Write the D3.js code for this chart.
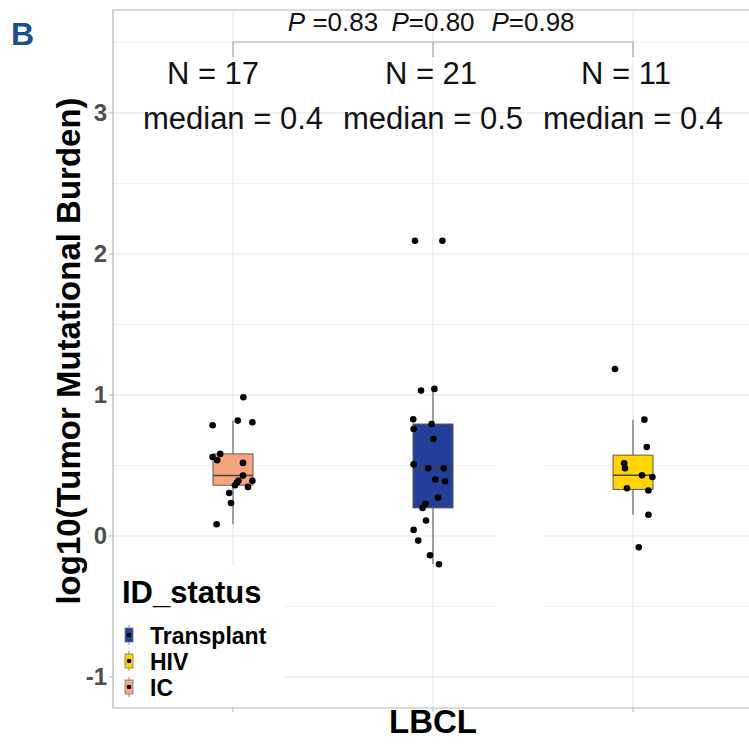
<!DOCTYPE html>
<html>
<head>
<meta charset="utf-8">
<script src="https://cdn.jsdelivr.net/npm/d3@7"></script>
<style>
  body { margin: 0; background: #fff; }
  svg { display: block; font-family: "Liberation Sans", Arial, sans-serif; }
</style>
</head>
<body>
<svg id="chart" width="749" height="744"></svg>
<script>
// Groups in drawing order along x
const groups = ["IC", "Transplant", "HIV"];
const groupFill = ["#F8A47E", "#233F97", "#FFD400"];
const legendOrder = ["Transplant", "HIV", "IC"];

// log10(TMB) per sample, with horizontal jitter (category units)
const icValues = [0.984, 0.785, 0.818, 0.806, 0.560, 0.582, 0.537, 0.518, 0.428, 0.392, 0.378, 0.360, 0.392, 0.348, 0.305, 0.234, 0.083];
const icJitter = [0.052, -0.102, 0.024, 0.097, -0.102, -0.064, -0.079, 0.050, 0.050, 0.027, 0.019, 0.010, 0.097, 0.075, -0.019, -0.010, -0.082];

const transplantValues = [2.094, 2.094, 1.031, 1.043, 0.827, 0.759, 0.794, 0.688, 0.508, 0.480, 0.480, 0.400, 0.388, 0.272, 0.229, 0.199, 0.109, 0.043, -0.033, -0.137, -0.201];
const transplantJitter = [-0.090, 0.047, -0.060, 0.007, -0.099, -0.097, -0.007, 0.002, -0.097, -0.024, 0.054, 0.012, 0.060, 0.025, -0.037, -0.052, -0.035, -0.097, -0.074, -0.015, 0.030];

const hivValues = [1.184, 0.825, 0.631, 0.516, 0.480, 0.430, 0.418, 0.338, 0.322, 0.151, -0.080];
const hivJitter = [-0.090, 0.057, 0.069, -0.044, -0.040, 0.045, 0.097, -0.030, 0.077, 0.077, 0.029];

// Pairwise comparison labels shown above the bracket
const pLabels = ["=0.83", "=0.80", "=0.98"];
const pGap = [" ", "", ""];

const yTicks = [-1, 0, 1, 2, 3];
const yMinor = [-0.5, 0.5, 1.5, 2.5, 3.5];

const seriesValues = [icValues, transplantValues, hivValues];
const seriesJitter = [icJitter, transplantJitter, hivJitter];

const svg = d3.select("#chart");
const panel = { left: 113, right: 753, top: 10, bottom: 708 };

const x = d3.scaleLinear().domain([0.4, 3.6]).range([panel.left, panel.right]);
const y = d3.scaleLinear().domain([-1.22, 3.73]).range([panel.bottom, panel.top]);
const boxHalf = 0.1;

// Gridlines
const grid = svg.append("g");
grid.selectAll(".minor").data(yMinor).join("line")
  .attr("x1", panel.left).attr("x2", panel.right)
  .attr("y1", d => y(d)).attr("y2", d => y(d))
  .attr("stroke", "#f1f1f1").attr("stroke-width", 1);
grid.selectAll(".major").data(yTicks).join("line")
  .attr("x1", panel.left).attr("x2", panel.right)
  .attr("y1", d => y(d)).attr("y2", d => y(d))
  .attr("stroke", "#e6e6e6").attr("stroke-width", 1);
grid.selectAll(".vx").data(groups).join("line")
  .attr("x1", (d, i) => x(i + 1)).attr("x2", (d, i) => x(i + 1))
  .attr("y1", panel.top).attr("y2", panel.bottom)
  .attr("stroke", "#e6e6e6").attr("stroke-width", 1);

// a blank strip between the Transplant and HIV boxes
svg.append("rect")
  .attr("x", x(2.325)).attr("width", x(2.545) - x(2.325))
  .attr("y", y(0.95)).attr("height", y(-0.75) - y(0.95))
  .attr("fill", "#fff");

// Panel border (left, top, bottom)
svg.append("path")
  .attr("d", `M${panel.right},${panel.top}H${panel.left}V${panel.bottom}H${panel.right}`)
  .attr("fill", "none").attr("stroke", "#b5b5b5").attr("stroke-width", 1.2);

// Box statistics (ggplot-style quantiles, 1.5 IQR whiskers)
function boxStats(vals) {
  const s = vals.slice().sort(d3.ascending);
  const q1 = d3.quantileSorted(s, 0.25), med = d3.quantileSorted(s, 0.5), q3 = d3.quantileSorted(s, 0.75);
  const iqr = q3 - q1;
  const lo = d3.min(s.filter(v => v >= q1 - 1.5 * iqr));
  const hi = d3.max(s.filter(v => v <= q3 + 1.5 * iqr));
  return { q1, med, q3, lo, hi };
}

const boxes = svg.append("g");
groups.forEach((g, i) => {
  const st = boxStats(seriesValues[i]);
  const cx = i + 1;
  boxes.append("line")
    .attr("x1", x(cx)).attr("x2", x(cx))
    .attr("y1", y(st.lo)).attr("y2", y(st.hi))
    .attr("stroke", "#666").attr("stroke-width", 1.2);
  boxes.append("rect")
    .attr("x", x(cx - boxHalf)).attr("width", x(cx + boxHalf) - x(cx - boxHalf))
    .attr("y", y(st.q3)).attr("height", y(st.q1) - y(st.q3))
    .attr("fill", groupFill[i]).attr("stroke", "#5a5a5a").attr("stroke-width", 1);
  boxes.append("line")
    .attr("x1", x(cx - boxHalf)).attr("x2", x(cx + boxHalf))
    .attr("y1", y(st.med)).attr("y2", y(st.med))
    .attr("stroke", "#444").attr("stroke-width", 1.5);
});

// Jittered sample points
const pts = svg.append("g");
groups.forEach((g, i) => {
  pts.selectAll(null).data(seriesValues[i]).join("circle")
    .attr("cx", (d, k) => x(i + 1 + seriesJitter[i][k]))
    .attr("cy", d => y(d))
    .attr("r", 3.3).attr("fill", "#000");
});

// Comparison bracket and p-values
svg.append("path")
  .attr("d", `M${x(1)},${57}V${42}H${x(3)}V${57}M${x(2)},${42}V${57}`)
  .attr("fill", "none").attr("stroke", "#a8a8a8").attr("stroke-width", 1.2);
const pText = svg.append("g").attr("font-size", 26).attr("fill", "#111");
[1.5, 2, 2.5].forEach((cx, i) => {
  const t = pText.append("text").attr("x", x(cx)).attr("y", 31).attr("text-anchor", "middle");
  t.append("tspan").attr("font-style", "italic").text("P");
  t.append("tspan").text(pGap[i] + pLabels[i]);
});

// Sample size and median annotations
const nShift = [-0.1, -0.01, -0.035];
const ann = svg.append("g").attr("font-size", 31).attr("fill", "#111").attr("text-anchor", "middle");
groups.forEach((g, i) => {
  ann.append("text").attr("x", x(i + 1 + nShift[i])).attr("y", 84)
    .text(`N = ${seriesValues[i].length}`);
  ann.append("text").attr("x", x(i + 1)).attr("y", 129)
    .text(`median = ${d3.format(".1f")(d3.median(seriesValues[i]))}`);
});

// Y axis ticks and labels
const yAxis = svg.append("g");
yAxis.selectAll("line").data(yTicks).join("line")
  .attr("x1", panel.left - 4).attr("x2", panel.left)
  .attr("y1", d => y(d)).attr("y2", d => y(d))
  .attr("stroke", "#b5b5b5");
yAxis.selectAll("text").data(yTicks).join("text")
  .attr("x", panel.left - 6).attr("y", d => y(d) + 8.5)
  .attr("text-anchor", "end").attr("font-size", 24).attr("font-weight", "bold")
  .attr("fill", "#4d4d4d").text(d => d);

// X axis ticks
svg.append("g").selectAll("line").data(groups).join("line")
  .attr("x1", (d, i) => x(i + 1)).attr("x2", (d, i) => x(i + 1))
  .attr("y1", panel.bottom).attr("y2", panel.bottom + 4)
  .attr("stroke", "#b5b5b5");

// Axis titles
svg.append("text")
  .attr("transform", `translate(80,${(panel.top + panel.bottom) / 2 - 8}) rotate(-90)`)
  .attr("text-anchor", "middle").attr("font-size", 33).attr("font-weight", "bold")
  .attr("fill", "#000").text("log10(Tumor Mutational Burden)");
svg.append("text")
  .attr("x", x(2)).attr("y", 733).attr("text-anchor", "middle")
  .attr("font-size", 33).attr("font-weight", "bold").attr("fill", "#000").text("LBCL");

// Panel tag
svg.append("text").attr("x", 11).attr("y", 45)
  .attr("font-size", 32).attr("font-weight", "bold").attr("fill", "#1c4e8b").text("B");

// Legend
const leg = svg.append("g");
leg.append("rect").attr("x", panel.left + 1).attr("y", 566).attr("width", 170).attr("height", panel.bottom - 567)
  .attr("fill", "#fff");
leg.append("text").attr("x", 122).attr("y", 603)
  .attr("font-size", 31).attr("font-weight", "bold").attr("fill", "#000").text("ID_status");
legendOrder.forEach((g, k) => {
  const i = groups.indexOf(g);
  const cy = 635 + k * 26;
  leg.append("line").attr("x1", 129).attr("x2", 129).attr("y1", cy - 10).attr("y2", cy + 10)
    .attr("stroke", "#888").attr("stroke-width", 1);
  leg.append("rect").attr("x", 125).attr("y", cy - 7).attr("width", 8).attr("height", 14)
    .attr("fill", groupFill[i]).attr("stroke", "#777").attr("stroke-width", 0.8);
  leg.append("circle").attr("cx", 129).attr("cy", cy).attr("r", 2.3).attr("fill", "#000");
  leg.append("text").attr("x", 150).attr("y", cy + 8.5)
    .attr("font-size", 23).attr("font-weight", "bold").attr("fill", "#000").text(g);
});
</script>
</body>
</html>
